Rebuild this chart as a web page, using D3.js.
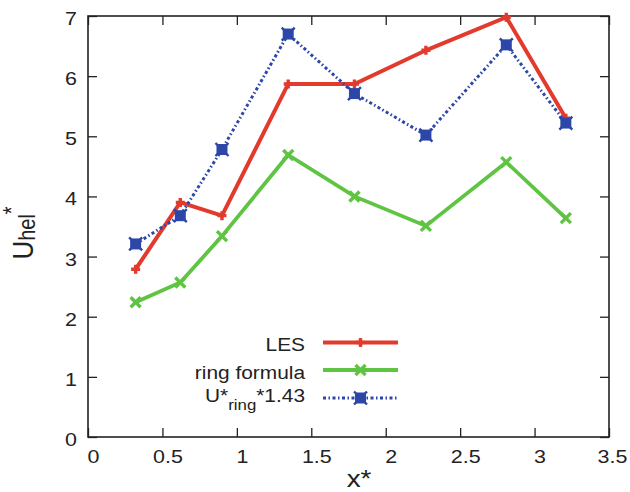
<!DOCTYPE html>
<html><head><meta charset="utf-8">
<script src="https://cdn.jsdelivr.net/npm/d3@7"></script>
<style>body{margin:0;background:#fff}svg{display:block}text{font-family:"Liberation Sans",Arial,sans-serif;fill:#222}</style>
</head><body><svg id="c" width="630" height="492"></svg>
<script>
const xValues=[0.32,0.62,0.90,1.345,1.79,2.27,2.81,3.21];
const lesValues=[2.79,3.90,3.68,5.87,5.87,6.43,6.98,5.30];
const ringValues=[2.24,2.57,3.34,4.69,4.00,3.51,4.57,3.64];
const scaledValues=[3.21,3.68,4.78,6.70,5.71,5.02,6.52,5.22];
const xTicks=[0,0.5,1,1.5,2,2.5,3,3.5];
const yTicks=[0,1,2,3,4,5,6,7];
const xTickLabels=["0","0.5","1","1.5","2","2.5","3","3.5"];
const yTickLabels=["0","1","2","3","4","5","6","7"];

const SX=1.16;
const L=88,R=609,T=16,B=437;
const svg=d3.select("#c");
const x=d3.scaleLinear().domain([0,3.5]).range([L,R]);
const y=d3.scaleLinear().domain([0,7]).range([B,T]);

// axes with inward ticks
const ax=svg.append("g").attr("transform",`translate(0,${B})`)
  .call(d3.axisBottom(x).tickValues(xTicks).tickFormat((d,i)=>xTickLabels[i]).tickSizeInner(-9).tickSizeOuter(0));
ax.selectAll("text").attr("x",(d,i)=>(i===xTicks.length-1?3:5)/SX).attr("y",26).attr("dy",null).attr("transform",`scale(${SX},1)`).style("font-size","18.5px");
svg.append("g").attr("transform",`translate(0,${T})`)
  .call(d3.axisTop(x).tickValues(xTicks).tickFormat("").tickSizeInner(-9).tickSizeOuter(0));
const ay=svg.append("g").attr("transform",`translate(${L},0)`)
  .call(d3.axisLeft(y).tickValues(yTicks).tickFormat((d,i)=>yTickLabels[i]).tickSizeInner(-9).tickSizeOuter(0));
ay.selectAll("text").attr("x",-11/SX).attr("dy",null).attr("y",8.5).attr("transform",`scale(${SX},1)`).style("font-size","18.5px");
svg.append("g").attr("transform",`translate(${R},0)`)
  .call(d3.axisRight(y).tickValues(yTicks).tickFormat("").tickSizeInner(-9).tickSizeOuter(0));
svg.selectAll(".domain").remove();
svg.selectAll(".tick line").attr("stroke","#222").attr("stroke-width",1.3);
svg.selectAll(".tick text").attr("fill","#222").style("font-family","'Liberation Sans',Arial,sans-serif");
svg.append("rect").attr("x",L).attr("y",T).attr("width",R-L).attr("height",B-T)
  .attr("fill","none").attr("stroke","#222").attr("stroke-width",1.6);

const series=[
  {name:"LES",vals:lesValues,color:"#e23a2c",w:4,dash:null,marker:"plus"},
  {name:"ring formula",vals:ringValues,color:"#5ec442",w:3.8,dash:null,marker:"cross"},
  {name:"scaled",vals:scaledValues,color:"#2d47a8",w:3,dash:"3,2.5,1.5,2.5",marker:"box"}
];
function drawMarker(g,type,color){
  if(type==="plus"){
    g.append("path").attr("d","M-4.5,0H4.5M0,-4.5V4.5").attr("stroke",color).attr("stroke-width",3.4).attr("fill","none");
  }else if(type==="cross"){
    g.append("path").attr("d","M-5,-5L5,5M-5,5L5,-5").attr("stroke",color).attr("stroke-width",3.4).attr("fill","none");
  }else{
    g.append("rect").attr("x",-5.5).attr("y",-5.5).attr("width",11).attr("height",11).attr("fill",color);
    g.append("path").attr("d","M-6.5,-6.5L6.5,6.5M-6.5,6.5L6.5,-6.5").attr("stroke",color).attr("stroke-width",2.4);
  }
}
const line=d3.line().x((d,i)=>x(xValues[i])).y(d=>y(d));
series.forEach(s=>{
  svg.append("path").datum(s.vals).attr("d",line).attr("fill","none")
    .attr("stroke",s.color).attr("stroke-width",s.w).attr("stroke-linejoin","miter")
    .attr("stroke-dasharray",s.dash);
  s.vals.forEach((v,i)=>{
    const g=svg.append("g").attr("transform",`translate(${x(xValues[i])},${y(v)})`);
    drawMarker(g,s.marker,s.color);
  });
});

// legend
const legY=[342.5,370,398];
const legBase=[351,378.5,402];
series.forEach((s,k)=>{
  svg.append("line").attr("x1",323).attr("x2",398).attr("y1",legY[k]).attr("y2",legY[k])
    .attr("stroke",s.color).attr("stroke-width",s.w).attr("stroke-dasharray",s.dash);
  const g=svg.append("g").attr("transform",`translate(360.5,${legY[k]})`);
  drawMarker(g,s.marker,s.color);
  const t=svg.append("g").attr("transform",`translate(305,${legBase[k]}) scale(${SX},1)`)
    .append("text").attr("text-anchor","end").style("font-size","18px");
  if(k<2){t.text(s.name);}
  else{
    t.append("tspan").text("U*");
    t.append("tspan").attr("dy",8).style("font-size","14.5px").text("ring");
    t.append("tspan").attr("dy",-8).text("*1.43");
  }
});

// axis titles
svg.append("g").attr("transform",`translate(359,487) scale(${SX},1)`)
  .append("text").attr("text-anchor","middle").style("font-size","24px").text("x*");
const yl=svg.append("g").attr("transform",`translate(33,233) scale(${SX},1) rotate(-90)`)
  .append("text").attr("text-anchor","middle").style("font-size","26px");
yl.append("tspan").text("U");
yl.append("tspan").attr("dy",2).style("font-size","20px").text("hel");
yl.append("tspan").attr("dy",-13).style("font-size","20px").text("*");
</script></body></html>
